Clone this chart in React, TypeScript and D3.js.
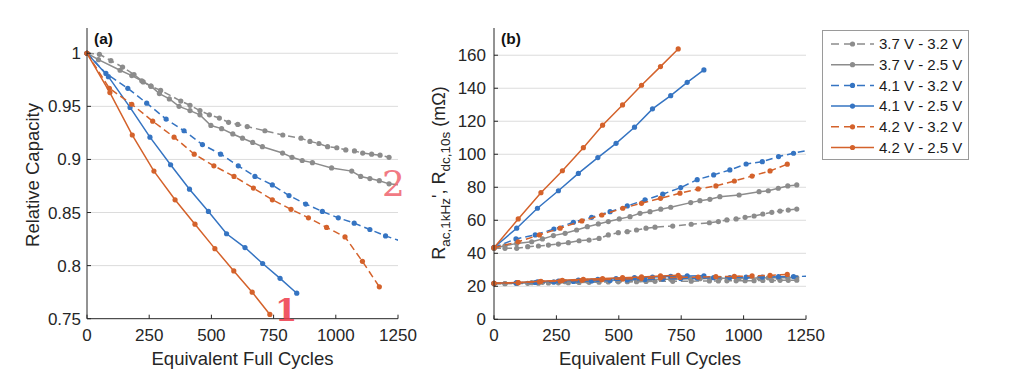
import React from "react";
import * as d3 from "d3";

// ---------- DATA ----------
const seriesNames = ["3.7 V - 3.2 V", "3.7 V - 2.5 V", "4.1 V - 3.2 V", "4.1 V - 2.5 V", "4.2 V - 3.2 V", "4.2 V - 2.5 V"];
const seriesColors = ["#8c8c8c", "#8c8c8c", "#3574c2", "#3574c2", "#d4622b", "#d4622b"];
const seriesDashed = [true, false, true, false, true, false];

// Panel (a): relative capacity
const capCycles_37_32 = [0, 50, 96, 143, 189, 226, 257, 296, 377, 414, 454, 492, 532, 569, 606, 644, 715, 787, 860, 896, 932, 967, 1004, 1040, 1075, 1108, 1144, 1178, 1214];
const cap_37_32 = [1, 0.999, 0.993, 0.987, 0.98, 0.973, 0.969, 0.965, 0.955, 0.951, 0.946, 0.942, 0.939, 0.935, 0.933, 0.931, 0.927, 0.923, 0.92, 0.917, 0.915, 0.912, 0.911, 0.909, 0.908, 0.906, 0.905, 0.904, 0.902];
const capCycles_37_25 = [0, 46, 133, 180, 220, 257, 291, 331, 370, 414, 454, 498, 541, 586, 625, 666, 705, 786, 824, 865, 906, 983, 1064, 1100, 1137, 1175, 1214, 1262];
const cap_37_25 = [1, 0.994, 0.984, 0.979, 0.974, 0.969, 0.962, 0.957, 0.95, 0.946, 0.942, 0.932, 0.929, 0.924, 0.92, 0.916, 0.912, 0.906, 0.902, 0.899, 0.897, 0.892, 0.889, 0.884, 0.882, 0.88, 0.877, 0.876];
const capCycles_41_32 = [0, 76, 164, 240, 318, 390, 464, 537, 608, 675, 745, 812, 879, 946, 1010, 1074, 1137, 1200, 1262];
const cap_41_32 = [1, 0.981, 0.967, 0.953, 0.938, 0.927, 0.914, 0.905, 0.894, 0.884, 0.876, 0.866, 0.858, 0.851, 0.845, 0.84, 0.834, 0.828, 0.823];
const capCycles_41_25 = [0, 86, 173, 253, 336, 412, 488, 561, 635, 706, 776, 843];
const cap_41_25 = [1, 0.978, 0.949, 0.921, 0.895, 0.872, 0.851, 0.83, 0.817, 0.802, 0.788, 0.774];
const capCycles_42_32 = [0, 90, 180, 264, 350, 431, 510, 591, 669, 745, 820, 890, 963, 1037, 1107, 1175];
const cap_42_32 = [1, 0.967, 0.952, 0.936, 0.921, 0.905, 0.894, 0.884, 0.873, 0.862, 0.853, 0.845, 0.836, 0.827, 0.804, 0.78];
const capCycles_42_25 = [0, 92, 182, 269, 354, 434, 514, 590, 664, 735];
const cap_42_25 = [1, 0.963, 0.923, 0.889, 0.862, 0.839, 0.816, 0.795, 0.775, 0.754];

// Panel (b): resistance (R_dc,10s upper, R_ac,1kHz lower)
const resCycles_37_32 = [0, 44, 91, 135, 178, 218, 258, 298, 341, 381, 421, 458, 498, 534, 571, 609, 645, 716, 790, 863, 899, 933, 970, 1006, 1042, 1077, 1113, 1146, 1179, 1213];
const rdc_37_32 = [43, 43, 43, 44, 44.4, 45, 45.6, 46.4, 47.6, 48, 49, 51.1, 52.5, 53.1, 54.1, 55.2, 55.8, 56.5, 57.6, 58.5, 59.2, 60.2, 60.8, 61.8, 62.6, 63.8, 64.8, 65.6, 66.2, 66.8];
const rac_37_32 = [21.5, 21.6, 21.7, 21.8, 21.9, 22, 22.1, 22.2, 22.3, 22.4, 22.5, 22.6, 22.7, 22.8, 22.8, 22.9, 23, 23, 23.1, 23.2, 23.2, 23.3, 23.3, 23.4, 23.4, 23.5, 23.5, 23.6, 23.6, 23.7];
const resCycles_37_25 = [0, 44, 91, 151, 194, 238, 285, 331, 374, 418, 458, 502, 545, 585, 625, 668, 708, 788, 825, 865, 905, 982, 1062, 1099, 1139, 1177, 1213];
const rdc_37_25 = [43, 44.5, 46, 47, 48.7, 50.7, 52.1, 54.1, 56.1, 57.8, 59.2, 60.8, 62.2, 64.2, 65.2, 66.7, 67.9, 70.7, 71.9, 72.7, 74.3, 75.3, 77.3, 77.9, 79.4, 80.8, 81.4];
const rac_37_25 = [21.5, 21.7, 21.9, 22.2, 22.4, 22.6, 22.8, 23, 23.2, 23.4, 23.5, 23.7, 23.8, 24, 24.1, 24.2, 24.3, 24.5, 24.6, 24.7, 24.8, 24.9, 25, 25.1, 25.1, 25.2, 25.3];
const resCycles_41_32 = [0, 88, 165, 240, 318, 391, 465, 534, 605, 676, 748, 814, 880, 945, 1010, 1075, 1140, 1200, 1262];
const rdc_41_32 = [43.6, 48.7, 51.1, 54.7, 58.8, 61.8, 65.2, 68.7, 72.3, 75.8, 79.8, 84.6, 87.5, 90.5, 94.1, 95.5, 98.6, 100.6, 102.6];
const rac_41_32 = [21.8, 22, 22.3, 22.6, 22.9, 23.2, 23.5, 23.8, 24.1, 24.4, 24.7, 25, 25.2, 25.3, 25.5, 25.6, 25.8, 25.9, 26.1];
const resCycles_41_25 = [0, 91, 174, 258, 338, 416, 489, 563, 635, 708, 774, 841];
const rdc_41_25 = [43.5, 55.2, 67.3, 77.9, 88.4, 98, 106.6, 116.4, 127.5, 135.5, 143.6, 151.1];
const rac_41_25 = [21.8, 22.2, 22.7, 23.2, 23.7, 24.2, 24.7, 25.2, 25.6, 26, 26.3, 26.4];
const resCycles_42_32 = [0, 97, 182, 265, 352, 432, 516, 591, 667, 745, 818, 889, 963, 1034, 1106, 1175];
const rdc_42_32 = [43.4, 47, 51.1, 55.2, 59.6, 63.2, 67.3, 70.3, 73.3, 76.4, 79, 80.8, 83.8, 86.8, 89.9, 94];
const rac_42_32 = [21.8, 22.2, 22.7, 23.2, 23.6, 24, 24.4, 24.8, 25.1, 25.4, 25.6, 25.8, 26, 26.3, 26.6, 27.2];
const resCycles_42_25 = [0, 97, 188, 274, 358, 435, 515, 591, 667, 738];
const rdc_42_25 = [43.4, 60.8, 76.7, 90, 104, 117.6, 129.9, 141.8, 153.1, 163.8];
const rac_42_25 = [21.8, 22.3, 23, 23.6, 24.2, 24.7, 25.2, 25.7, 26.3, 26.7];

const xTicks = [0, 250, 500, 750, 1000, 1250];
const capTicks = [0.75, 0.8, 0.85, 0.9, 0.95, 1];
const capTickLabels = ["0.75", "0.8", "0.85", "0.9", "0.95", "1"];
const resTicks = [0, 20, 40, 60, 80, 100, 120, 140, 160];

// ---------- BUILD SERIES ----------
const zip = (xs: number[], ys: number[]) => xs.map((x, i) => ({ x, y: ys[i] }));
const capSeries = [
  zip(capCycles_37_32, cap_37_32),
  zip(capCycles_37_25, cap_37_25),
  zip(capCycles_41_32, cap_41_32),
  zip(capCycles_41_25, cap_41_25),
  zip(capCycles_42_32, cap_42_32),
  zip(capCycles_42_25, cap_42_25),
];
const rdcSeries = [
  zip(resCycles_37_32, rdc_37_32),
  zip(resCycles_37_25, rdc_37_25),
  zip(resCycles_41_32, rdc_41_32),
  zip(resCycles_41_25, rdc_41_25),
  zip(resCycles_42_32, rdc_42_32),
  zip(resCycles_42_25, rdc_42_25),
];
const racSeries = [
  zip(resCycles_37_32, rac_37_32),
  zip(resCycles_37_25, rac_37_25),
  zip(resCycles_41_32, rac_41_32),
  zip(resCycles_41_25, rac_41_25),
  zip(resCycles_42_32, rac_42_32),
  zip(resCycles_42_25, rac_42_25),
];

const FONT = "'Liberation Sans', Arial, Helvetica, sans-serif";
const AXIS = "#262626";
const GRID = "#dcdcdc";
const DASH = "7,4";

type Pt = { x: number; y: number };

function Panel(props: {
  id: string;
  x0: number; x1: number; yTop: number; yBot: number;
  yDomain: [number, number];
  yTicks: number[]; yTickLabels: string[];
  groups: Pt[][][];
  labelGap: number;
  tag: string;
}) {
  const { id, x0, x1, yTop, yBot, yDomain, yTicks, yTickLabels, groups, labelGap, tag } = props;
  const xs = d3.scaleLinear().domain([0, 1250]).range([x0, x1]);
  const ys = d3.scaleLinear().domain(yDomain).range([yBot, yTop]);
  const line = d3.line<Pt>().x((d) => xs(d.x)).y((d) => ys(d.y));
  return (
    <g>
      <defs>
        <clipPath id={id}>
          <rect x={x0 - 4} y={yTop} width={x1 - x0 + 4} height={yBot - yTop + 4} />
        </clipPath>
      </defs>
      {yTicks.map((t, i) =>
        i > 0 ? <line key={"g" + i} x1={x0} x2={x1} y1={ys(t)} y2={ys(t)} stroke={GRID} strokeWidth={1} /> : null
      )}
      <g clipPath={`url(#${id})`}>
        {groups.map((grp, gi) =>
          grp.map((pts, si) => (
            <g key={gi + "-" + si}>
              <path d={line(pts) || ""} fill="none" stroke={seriesColors[si]} strokeWidth={1.5}
                strokeDasharray={seriesDashed[si] ? DASH : undefined} />
              {pts.map((p, k) => (
                <circle key={k} cx={xs(p.x)} cy={ys(p.y)} r={2.6} fill={seriesColors[si]} />
              ))}
            </g>
          ))
        )}
      </g>
      <line x1={x0} x2={x1} y1={yBot} y2={yBot} stroke={AXIS} strokeWidth={1} />
      <line x1={x0} x2={x0} y1={yTop} y2={yBot} stroke={AXIS} strokeWidth={1} />
      {xTicks.map((t) => (
        <g key={"xt" + t}>
          <line x1={xs(t)} x2={xs(t)} y1={yBot} y2={yBot - 4} stroke={AXIS} />
          <text x={xs(t)} y={341} textAnchor="middle" fontSize={17} fill={AXIS} fontFamily={FONT}>{t}</text>
        </g>
      ))}
      {yTicks.map((t, i) => (
        <g key={"yt" + i}>
          <line x1={x0} x2={x0 + 4} y1={ys(t)} y2={ys(t)} stroke={AXIS} />
          <text x={x0 - labelGap} y={ys(t) + 6} textAnchor="end" fontSize={17} fill={AXIS} fontFamily={FONT}>{yTickLabels[i]}</text>
        </g>
      ))}
      <text x={(x0 + x1) / 2} y={365} textAnchor="middle" fontSize={18.5} fill={AXIS} fontFamily={FONT}>Equivalent Full Cycles</text>
      <text x={x0 + 7} y={44} fontSize={15.5} fontWeight="bold" fill="#111" fontFamily={FONT}>{tag}</text>
    </g>
  );
}

export default function App() {
  const lx0 = 831, lx1 = 874, ltx = 879;
  const legendY = [44, 64.7, 85.4, 106.1, 126.8, 147.5];
  return (
    <svg width={1024} height={383} style={{ position: "absolute", left: 0, top: 0, background: "#fff" }}>
      <rect x={0} y={0} width={1024} height={383} fill="#fff" />
      <Panel id="clipA" x0={87} x1={398} yTop={28} yBot={318.7} yDomain={[0.75, 1.0238]}
        yTicks={capTicks} yTickLabels={capTickLabels} groups={[capSeries]} labelGap={6} tag="(a)" />
      <Panel id="clipB" x0={494} x1={806} yTop={28} yBot={319.3} yDomain={[0, 176.5]}
        yTicks={resTicks} yTickLabels={resTicks.map(String)} groups={[rdcSeries, racSeries]} labelGap={8} tag="(b)" />
      {/* y axis titles */}
      <text transform="translate(39,175) rotate(-90)" textAnchor="middle" fontSize={18.5} fill={AXIS} fontFamily={FONT}>Relative Capacity</text>
      <text transform="translate(445,173) rotate(-90)" textAnchor="middle" fontSize={18} fill={AXIS} fontFamily={FONT}>
        R<tspan fontSize={13.5} dy={5}>ac,1kHz</tspan><tspan dy={-5}>', R</tspan><tspan fontSize={13.5} dy={5}>dc,10s</tspan><tspan dy={-5}> (mΩ)</tspan>
      </text>
      {/* legend */}
      <rect x={822.5} y={30.5} width={146} height={129} fill="#fff" stroke="#9a9a9a" strokeWidth={1} />
      {seriesNames.map((name, i) => (
        <g key={name}>
          <line x1={lx0} x2={lx1} y1={legendY[i]} y2={legendY[i]} stroke={seriesColors[i]} strokeWidth={1.5}
            strokeDasharray={seriesDashed[i] ? "8,5" : undefined} />
          <circle cx={(lx0 + lx1) / 2} cy={legendY[i]} r={2.6} fill={seriesColors[i]} />
          <text x={ltx} y={legendY[i] + 5.2} fontSize={15} fill="#1a1a1a" fontFamily={FONT}>{name}</text>
        </g>
      ))}
      {/* hand-drawn annotations */}
      <text x={382} y={196} fontSize={36} fill="#f06c76" fontFamily="'DejaVu Serif', serif" opacity={0.9}>2</text>
      <text x={275} y={321} fontSize={32} fill="#ee3a4a" fontFamily="'DejaVu Serif', serif" fontWeight="bold" opacity={0.85}>1</text>
    </svg>
  );
}
